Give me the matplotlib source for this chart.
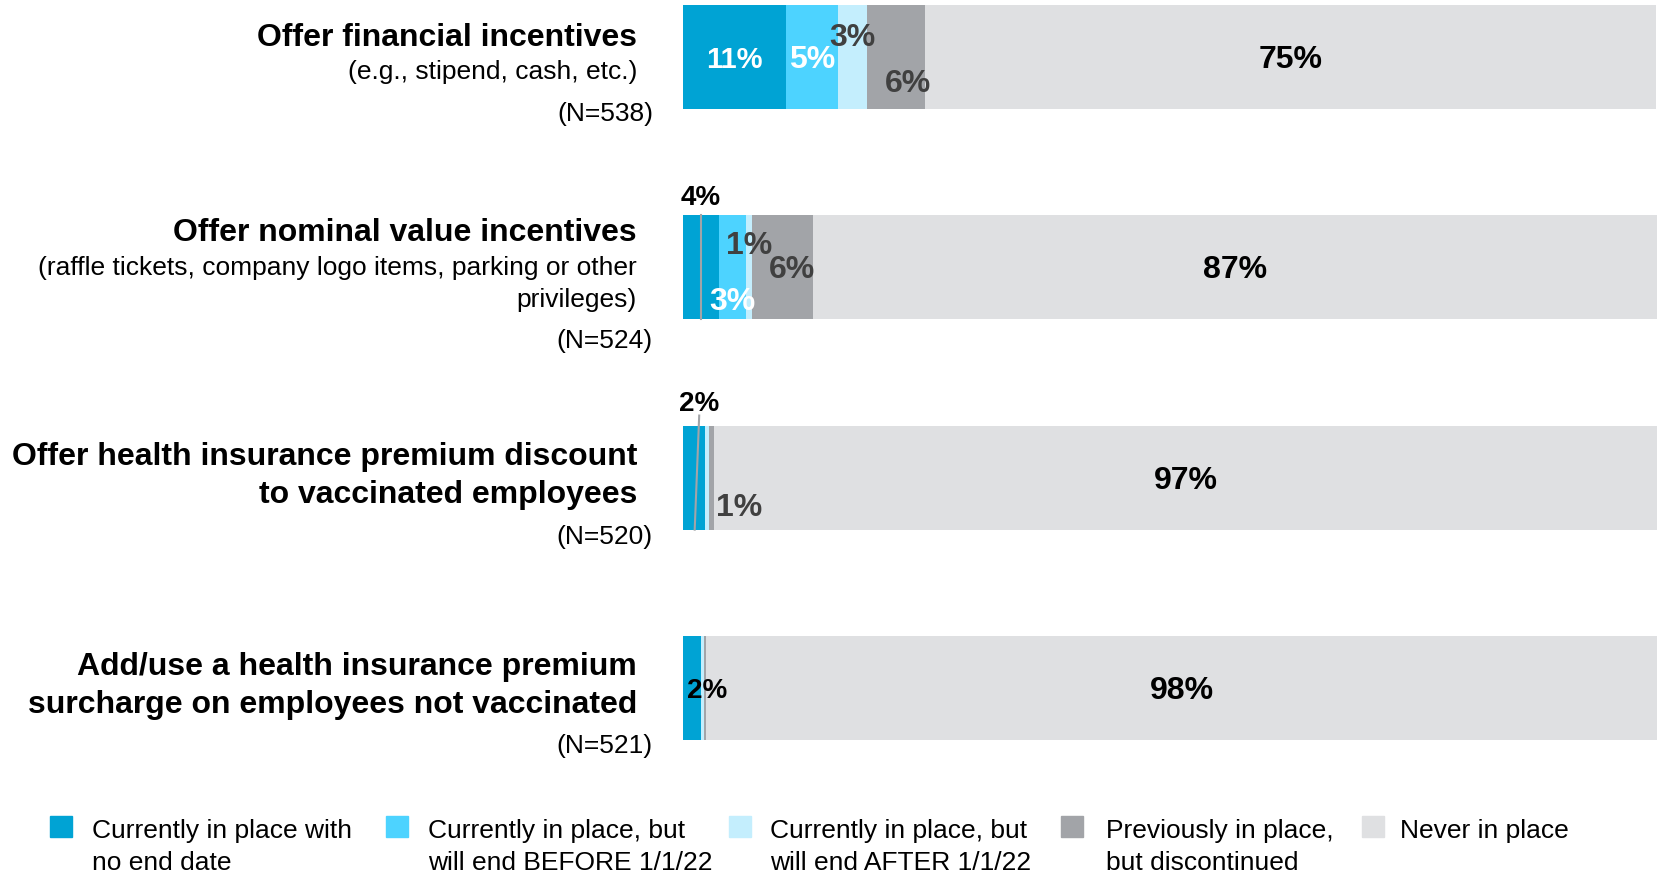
import numpy as np
import matplotlib.pyplot as plt
from matplotlib.patches import Rectangle

plt.rcParams['font.family'] = ['Liberation Sans', 'DejaVu Sans']

# data
titles = ['Offer financial incentives',
          'Offer nominal value incentives',
          'Offer health insurance premium discount\nto vaccinated employees',
          'Add/use a health insurance premium\nsurcharge on employees not vaccinated']
subtitles = ['(e.g., stipend, cash, etc.)',
             '(raffle tickets, company logo items, parking or other\nprivileges)',
             '', '']
n_labels = ['(N=538)', '(N=524)', '(N=520)', '(N=521)']
series = ['Currently in place with\nno end date',
          'Currently in place, but\nwill end BEFORE 1/1/22',
          'Currently in place, but\nwill end AFTER 1/1/22',
          'Previously in place,\nbut discontinued',
          'Never in place']
no_end = [10.6, 3.7, 2.3, 1.8]
before = [5.3, 2.8, 0.0, 0.0]
after = [3.0, 0.6, 0.4, 0.4]
discontinued = [5.9, 6.2, 0.5, 0.2]
never = [75.1, 86.7, 96.8, 97.6]
shown = [['11%', '5%', '3%', '6%', '75%'],
         ['4%', '3%', '1%', '6%', '87%'],
         ['2%', '', '', '1%', '97%'],
         ['2%', '', '', '', '98%']]

colors = ['#00A3D4', '#4DD3FF', '#C4EEFD', '#A2A4A8', '#DFE0E2']

W, H = 1665, 876
fig = plt.figure(figsize=(W / 100, H / 100), dpi=100)
ax = fig.add_axes([683 / W, 0, (1657 - 683) / W, 1])

vals = np.array([no_end, before, after, discontinued, never])
y = np.arange(len(titles))
left = np.zeros(len(titles))
for k in range(5):
    ax.barh(y, vals[k], left=left, height=0.495, color=colors[k], edgecolor='none')
    left += vals[k]

ax.set_xlim(0, 100)
ax.set_ylim((H - 57) / 210.3, -57 / 210.3)
ax.axis('off')

starts = np.cumsum(vals, axis=0) - vals
centers = starts + vals / 2
px = 100 / 975   # data units per pixel in x
py = 1 / 210.3   # data units per pixel in y
d = 3 * py       # small downward nudge for labels
fs = 21
big = 23
dark = '#404040'

def lab(x, yy, s, c, size):
    ax.text(x, yy + d, s, color=c, fontsize=size, fontweight='bold', ha='center', va='center')

# bar 1
lab(centers[0, 0], 0, shown[0][0], 'white', fs)
lab(centers[1, 0], 0, shown[0][1], 'white', big)
lab(centers[2, 0], -22 * py, shown[0][2], dark, big)
lab(centers[3, 0] + 12 * px, 24 * py, shown[0][3], dark, big)
lab(centers[4, 0], 0, shown[0][4], 'black', big)

# bar 2
ax.plot([centers[0, 1], centers[0, 1]], [1 - 0.2475, 1 + 0.2475], color='#A2A4A8', lw=1.5)
lab(centers[0, 1], 1 - 72 * py, shown[1][0], 'black', 20)
lab(centers[1, 1], 1 + 32 * py, shown[1][1], 'white', big)
lab(centers[2, 1], 1 - 24 * py, shown[1][2], dark, big)
lab(centers[3, 1] + 10 * px, 1, shown[1][3], dark, big)
lab(centers[4, 1], 1, shown[1][4], 'black', big)

# bar 3
ax.plot([centers[0, 2] + 5 * px, centers[0, 2] + 0.5 * px], [2 - 0.2475 - 10 * py, 2 + 0.2475],
        color='#A2A4A8', lw=1.5)
lab(centers[0, 2] + 5 * px, 2 - 77 * py, shown[2][0], 'black', 20)
lab(centers[3, 2] + 27 * px, 2 + 27 * py, shown[2][3], dark, big)
lab(centers[4, 2], 2, shown[2][4], 'black', big)

# bar 4
lab(centers[0, 3] + 15 * px, 3, shown[3][0], 'black', 20)
lab(centers[4, 3], 3, shown[3][4], 'black', big)

# category labels
def fy(p):
    return 1 - p / H

tx = 637 / W
nx = 653 / W
tfs = 23
sfs = 19
fig.text(tx, fy(38), titles[0], fontsize=tfs, fontweight='bold', ha='right', va='center')
fig.text(tx, fy(72), subtitles[0], fontsize=sfs, ha='right', va='center')
fig.text(nx, fy(114), n_labels[0], fontsize=sfs, ha='right', va='center')

fig.text(tx, fy(233), titles[1], fontsize=tfs, fontweight='bold', ha='right', va='center')
fig.text(tx, fy(284), subtitles[1], fontsize=sfs, ha='right', va='center', linespacing=1.38)
fig.text(nx, fy(341), n_labels[1], fontsize=sfs, ha='right', va='center')

fig.text(tx, fy(476), titles[2], fontsize=tfs, fontweight='bold', ha='right', va='center', linespacing=1.34)
fig.text(nx, fy(537), n_labels[2], fontsize=sfs, ha='right', va='center')

fig.text(tx, fy(686), titles[3], fontsize=tfs, fontweight='bold', ha='right', va='center', linespacing=1.34)
fig.text(nx, fy(746), n_labels[3], fontsize=sfs, ha='right', va='center')

# legend
box_x = [50, 386, 729, 1061, 1362]
text_x = [92, 428, 770, 1106, 1400]
for k in range(5):
    fig.add_artist(Rectangle((box_x[k] / W, fy(837)), 22 / W, 21 / H,
                             transform=fig.transFigure, color=colors[k]))
    fig.text(text_x[k] / W, fy(819), series[k], fontsize=19, ha='left', va='top',
             linespacing=1.4)

fig.savefig('out.png', dpi=100)
